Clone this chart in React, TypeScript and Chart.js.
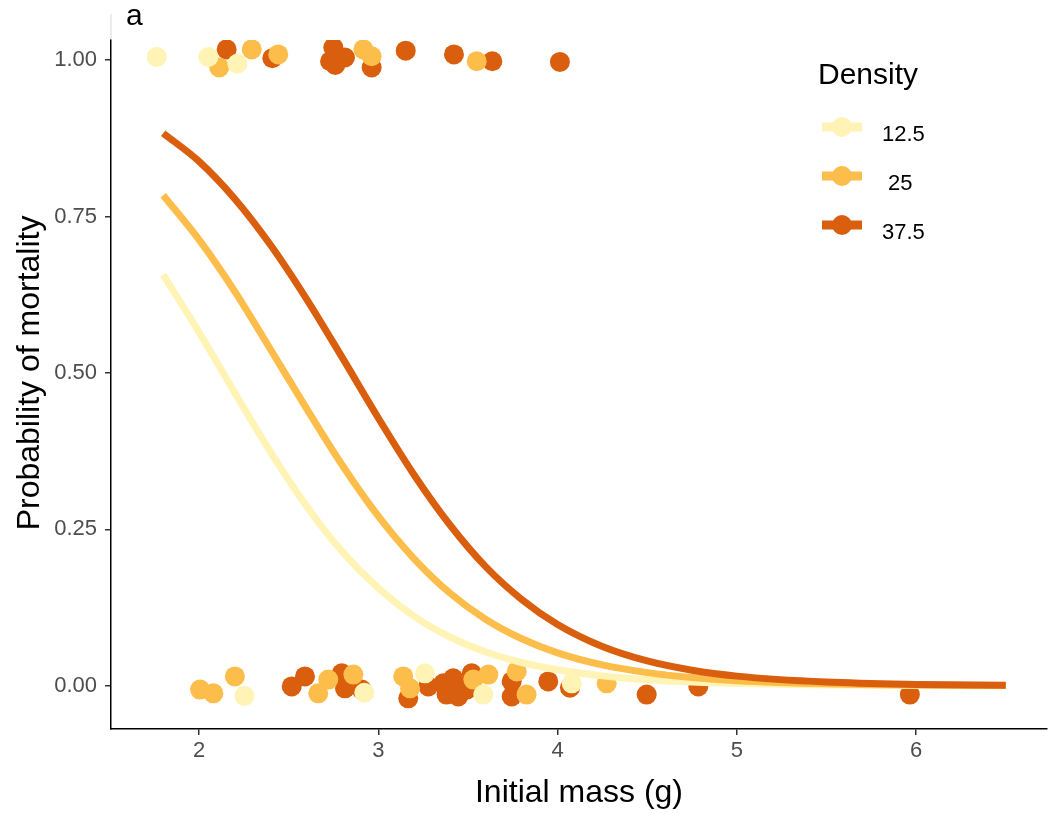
import { useEffect, useRef } from 'react';
import { Chart, registerables } from 'chart.js';

Chart.register(...registerables);

// Fitted mortality curves, sampled along initial mass (g)
const massGrid = [1.8, 2.0, 2.2, 2.4, 2.6, 2.8, 3.0, 3.2, 3.4, 3.6, 3.8, 4.0, 4.25, 4.5, 4.75, 5.0, 5.5, 6.0, 6.5];
const fit125 = [0.657, 0.565, 0.468, 0.373, 0.287, 0.214, 0.156, 0.111, 0.078, 0.054, 0.0373, 0.0256, 0.0159, 0.0098, 0.006, 0.0037, 0.0014, 0.0005, 0.0002];
const fit25 = [0.784, 0.713, 0.63, 0.537, 0.443, 0.352, 0.271, 0.203, 0.148, 0.106, 0.0752, 0.0527, 0.0334, 0.0211, 0.0132, 0.0082, 0.0032, 0.0012, 0.0005];
const fit375 = [0.883, 0.838, 0.778, 0.704, 0.618, 0.524, 0.428, 0.337, 0.257, 0.19, 0.138, 0.098, 0.0628, 0.0397, 0.0249, 0.0155, 0.006, 0.0023, 0.0009];

// Observed (jittered) outcomes: 1 = died, 0 = survived
const obs125Mass = [1.764, 2.052, 2.214, 2.253, 2.922, 3.26, 3.586, 4.079];
const obs125Dead = [1.005, 1.005, 0.994, -0.016, -0.011, 0.02, -0.014, 0.004];

const obs25Mass = [2.113, 2.294, 2.442, 2.917, 2.963, 3.549, 2.006, 2.08, 2.2, 2.665, 2.721, 2.861, 3.139, 3.177, 3.53, 3.614, 3.772, 3.827, 4.274];
const obs25Dead = [0.988, 1.017, 1.009, 1.017, 1.006, 0.998, -0.006, -0.012, 0.015, -0.012, 0.01, 0.018, 0.015, -0.004, 0.01, 0.018, 0.023, -0.014, 0.004];

const obs375Mass = [2.154, 2.409, 2.749, 2.731, 2.814, 2.76, 2.963, 3.153, 3.422, 3.636, 4.013, 2.517, 2.591, 2.796, 2.814, 2.907, 3.167, 3.279, 3.363, 3.418, 3.381, 3.446, 3.493, 3.456, 3.521, 3.744, 3.744, 3.948, 4.069, 4.497, 4.785, 5.965];
const obs375Dead = [1.017, 1.003, 1.02, 0.998, 1.004, 0.992, 0.988, 1.015, 1.009, 0.998, 0.997, -0.001, 0.015, 0.02, -0.004, -0.006, -0.02, -0.001, 0.004, 0.012, -0.014, -0.017, -0.006, -0.001, 0.02, 0.007, -0.017, 0.007, -0.003, -0.014, -0.001, -0.014];

const densityLabels = ['12.5', ' 25', '37.5'];
const densityColors = ['#FFF4B5', '#FDBD4A', '#D95F0E'];

const xTicks = [2, 3, 4, 5, 6];
const yTicks = [0, 0.25, 0.5, 0.75, 1];

const FONT = '"Liberation Sans", Arial, sans-serif';

const pts = (xs: number[], ys: number[]) => xs.map((x, i) => ({ x, y: ys[i] }));

// Panel letter, y-axis title, legend with line+point keys
const overlayPlugin = {
  id: 'overlay',
  afterDraw(chart: any) {
    const ctx = chart.ctx as CanvasRenderingContext2D;
    const area = chart.chartArea;
    ctx.save();
    // faint extension above the y axis
    ctx.strokeStyle = '#d9d9d9';
    ctx.lineWidth = 1;
    ctx.beginPath();
    ctx.moveTo(area.left, 14);
    ctx.lineTo(area.left, area.top);
    ctx.stroke();

    ctx.fillStyle = '#000';
    ctx.font = `30px ${FONT}`;
    ctx.textBaseline = 'alphabetic';
    ctx.textAlign = 'left';
    ctx.fillText('a', 126, 25);

    // y-axis title, centred on the 0–1 probability range
    const yMid = (chart.scales.y.getPixelForValue(0) + chart.scales.y.getPixelForValue(1)) / 2;
    ctx.save();
    ctx.translate(30, yMid);
    ctx.rotate(-Math.PI / 2);
    ctx.font = `32px ${FONT}`;
    ctx.textAlign = 'center';
    ctx.textBaseline = 'middle';
    ctx.fillText('Probability of mortality', 0, 0);
    ctx.restore();

    ctx.font = `30px ${FONT}`;
    ctx.fillText('Density', 818, 84);
    ctx.font = `22px ${FONT}`;
    densityLabels.forEach((label, i) => {
      const cy = 127 + 49 * i;
      ctx.strokeStyle = densityColors[i];
      ctx.lineWidth = 9;
      ctx.lineCap = 'butt';
      ctx.beginPath();
      ctx.moveTo(822, cy);
      ctx.lineTo(862, cy);
      ctx.stroke();
      ctx.fillStyle = densityColors[i];
      ctx.beginPath();
      ctx.arc(842, cy, 10, 0, Math.PI * 2);
      ctx.fill();
      ctx.fillStyle = '#000';
      ctx.fillText(label, 882, cy + 14);
    });
    ctx.restore();
  },
};

export default function App() {
  const canvasRef = useRef<HTMLCanvasElement | null>(null);

  useEffect(() => {
    document.body.style.margin = '0';
    const canvas = canvasRef.current;
    if (!canvas) return;

    const lineDs = (data: number[], color: string, order: number) => ({
      data: pts(massGrid, data),
      showLine: true,
      borderColor: color,
      backgroundColor: color,
      borderWidth: 7,
      pointRadius: 0,
      cubicInterpolationMode: 'monotone' as const,
      borderCapStyle: 'butt' as const,
      order,
    });
    const pointDs = (xs: number[], ys: number[], color: string, order: number) => ({
      data: pts(xs, ys),
      showLine: false,
      pointRadius: 10,
      pointHoverRadius: 10,
      pointBackgroundColor: color,
      pointBorderWidth: 0,
      backgroundColor: color,
      borderColor: color,
      order,
    });

    const chart = new Chart(canvas, {
      type: 'scatter',
      data: {
        datasets: [
          lineDs(fit375, densityColors[2], 1),
          lineDs(fit25, densityColors[1], 2),
          lineDs(fit125, densityColors[0], 3),
          pointDs(obs125Mass, obs125Dead, densityColors[0], 4),
          pointDs(obs25Mass, obs25Dead, densityColors[1], 5),
          pointDs(obs375Mass, obs375Dead, densityColors[2], 6),
        ],
      },
      options: {
        responsive: false,
        animation: false,
        layout: { padding: { top: 40, right: 9, left: 0, bottom: 0 } },
        plugins: {
          legend: { display: false },
          tooltip: { enabled: false },
        },
        scales: {
          x: {
            type: 'linear',
            min: 1.509,
            max: 6.73,
            afterBuildTicks: (scale: any) => {
              scale.ticks = xTicks.map((v) => ({ value: v }));
            },
            afterFit: (scale: any) => {
              scale.height = 85;
            },
            ticks: {
              color: '#4D4D4D',
              font: { family: FONT, size: 22 },
              padding: 3,
              callback: (v: any) => String(v),
            },
            grid: { drawOnChartArea: false, drawTicks: true, tickLength: 6, color: '#333333', lineWidth: 1.5 },
            border: { display: true, color: '#000000', width: 1.5 },
            title: {
              display: true,
              text: 'Initial mass (g)',
              color: '#000000',
              font: { family: FONT, size: 32 },
              padding: { top: 0, bottom: 2 },
            },
          },
          y: {
            type: 'linear',
            min: -0.069,
            max: 1.032,
            afterBuildTicks: (scale: any) => {
              scale.ticks = yTicks.map((v) => ({ value: v }));
            },
            afterFit: (scale: any) => {
              scale.width = 111;
            },
            ticks: {
              color: '#4D4D4D',
              font: { family: FONT, size: 22 },
              padding: 8,
              callback: (v: any) => Number(v).toFixed(2),
            },
            grid: { drawOnChartArea: false, drawTicks: true, tickLength: 6, color: '#333333', lineWidth: 1.5 },
            border: { display: true, color: '#000000', width: 1.5 },
            title: { display: false },
          },
        },
      },
      plugins: [overlayPlugin],
    });

    return () => chart.destroy();
  }, []);

  return (
    <div style={{ width: 1057, height: 814 }}>
      <canvas ref={canvasRef} width={1057} height={814} style={{ width: 1057, height: 814, display: 'block' }} />
    </div>
  );
}
